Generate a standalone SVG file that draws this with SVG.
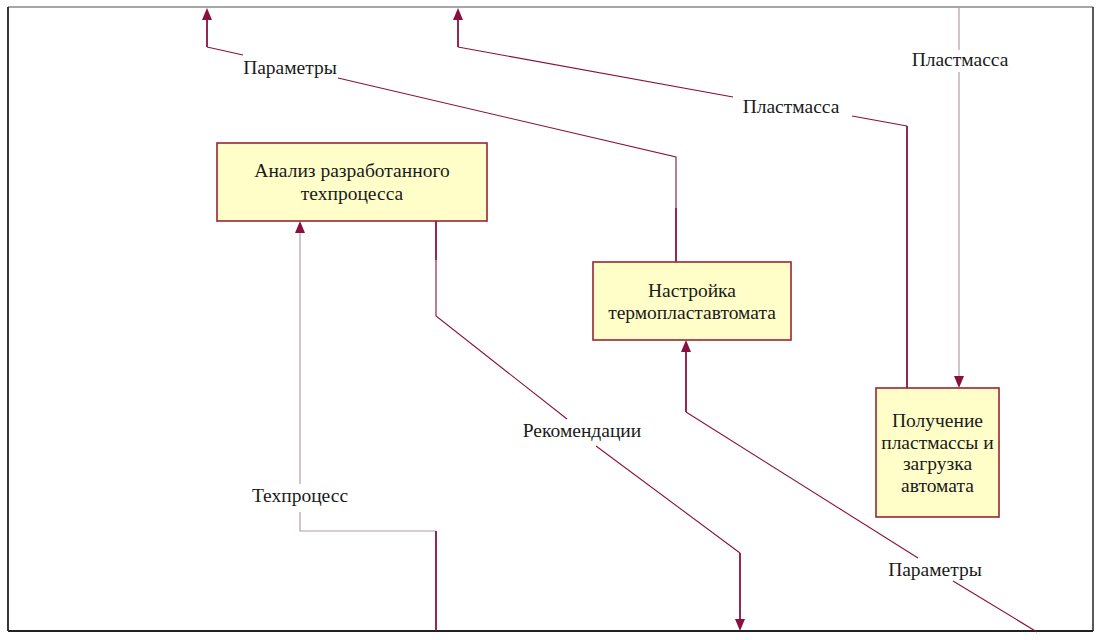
<svg xmlns="http://www.w3.org/2000/svg" width="1100" height="640" viewBox="0 0 1100 640">
<style>
.frame{fill:none;stroke:#222;stroke-width:1.5}
.box{fill:#FFFEC9;stroke:#9A2438;stroke-width:1.6}
.t{font-family:"Liberation Serif","Times New Roman",serif;font-size:19.5px;fill:#1a1a1a;text-anchor:middle}
.c{fill:none;stroke:#8A1040;stroke-width:1.1}
.cv{fill:none;stroke:#8A1040;stroke-width:1.8}
.cg{fill:none;stroke:#B89AA8;stroke-width:1.2}
.ah{fill:#8A1040}
</style>
<rect x="0" y="0" width="1100" height="640" fill="#fff"/>
<line x1="8" y1="7" x2="1093" y2="7" stroke="#888" stroke-width="1.5"/>
<line x1="8" y1="7" x2="8" y2="631" stroke="#222" stroke-width="1.8"/>
<line x1="8" y1="631" x2="1093" y2="631" stroke="#222" stroke-width="1.8"/>
<line x1="1093" y1="7" x2="1093" y2="631" stroke="#222" stroke-width="1.5"/>

<g id="connectors">
  <!-- Параметры top -->
  <polyline class="cv" points="676,262 676,208"/>
  <polyline class="c" points="676,208 676,157 338,78"/>
  <polyline class="c" points="243,55 207,47"/>
  <line class="cv" x1="207" y1="47" x2="207" y2="20"/>
  <path class="ah" d="M202,20 L207,8 L212,20 Z"/>
  <!-- Пластмасса middle -->
  <polyline class="cv" points="907,388 907,126"/>
  <polyline class="c" points="907,126 852,116"/>
  <polyline class="c" points="733,97 458,47"/>
  <line class="cv" x1="458" y1="47" x2="458" y2="20"/>
  <path class="ah" d="M453,20 L458,8 L463,20 Z"/>
  <!-- Пластмасса right -->
  <line class="cg" x1="959" y1="7" x2="959" y2="50"/>
  <line class="cg" x1="959" y1="72" x2="959" y2="376"/>
  <path class="ah" d="M954,376 L964,376 L959,388 Z"/>
  <!-- Рекомендации -->
  <polyline class="cv" points="436,221 436,260"/>
  <polyline class="c" points="436,260 436,316 567,419"/>
  <polyline class="c" points="596,446 740,553"/>
  <line class="cv" x1="740" y1="553" x2="740" y2="619"/>
  <path class="ah" d="M735,619 L745,619 L740,631 Z"/>
  <!-- Техпроцесс -->
  <line class="cg" x1="300" y1="233" x2="300" y2="484"/>
  <path class="ah" d="M295,233 L300,221 L305,233 Z"/>
  <polyline class="cg" points="300,512 300,531 436,531"/>
  <polyline class="cv" points="436,531 436,631"/>
  <!-- Параметры bottom -->
  <line class="cv" x1="686" y1="352" x2="686" y2="412"/>
  <path class="ah" d="M681,352 L686,340 L691,352 Z"/>
  <polyline class="c" points="686,412 918,558"/>
  <polyline class="c" points="953,581 1037,632"/>
</g>

<g id="label-parametry-top"><text class="t" x="290" y="74">Параметры</text></g>
<g id="label-plastmassa-mid"><text class="t" x="791" y="113">Пластмасса</text></g>
<g id="label-plastmassa-right"><text class="t" x="960" y="66">Пластмасса</text></g>
<g id="label-rekomendacii"><text class="t" x="582" y="437">Рекомендации</text></g>
<g id="label-tehprocess"><text class="t" x="300" y="502">Техпроцесс</text></g>
<g id="label-parametry-bottom"><text class="t" x="935" y="576">Параметры</text></g>

<g id="node-analiz">
  <rect class="box" x="217" y="143" width="270" height="78"/>
  <text class="t" x="352" y="177">Анализ разработанного</text>
  <text class="t" x="352" y="200">техпроцесса</text>
</g>
<g id="node-nastroika">
  <rect class="box" x="593" y="262" width="198" height="78"/>
  <text class="t" x="692" y="297">Настройка</text>
  <text class="t" x="692" y="319">термопластавтомата</text>
</g>
<g id="node-poluchenie">
  <rect class="box" x="876" y="388" width="123" height="129"/>
  <text class="t" x="937.5" y="427">Получение</text>
  <text class="t" x="937.5" y="449">пластмассы и</text>
  <text class="t" x="937.5" y="470">загрузка</text>
  <text class="t" x="937.5" y="492">автомата</text>
</g>
</svg>
